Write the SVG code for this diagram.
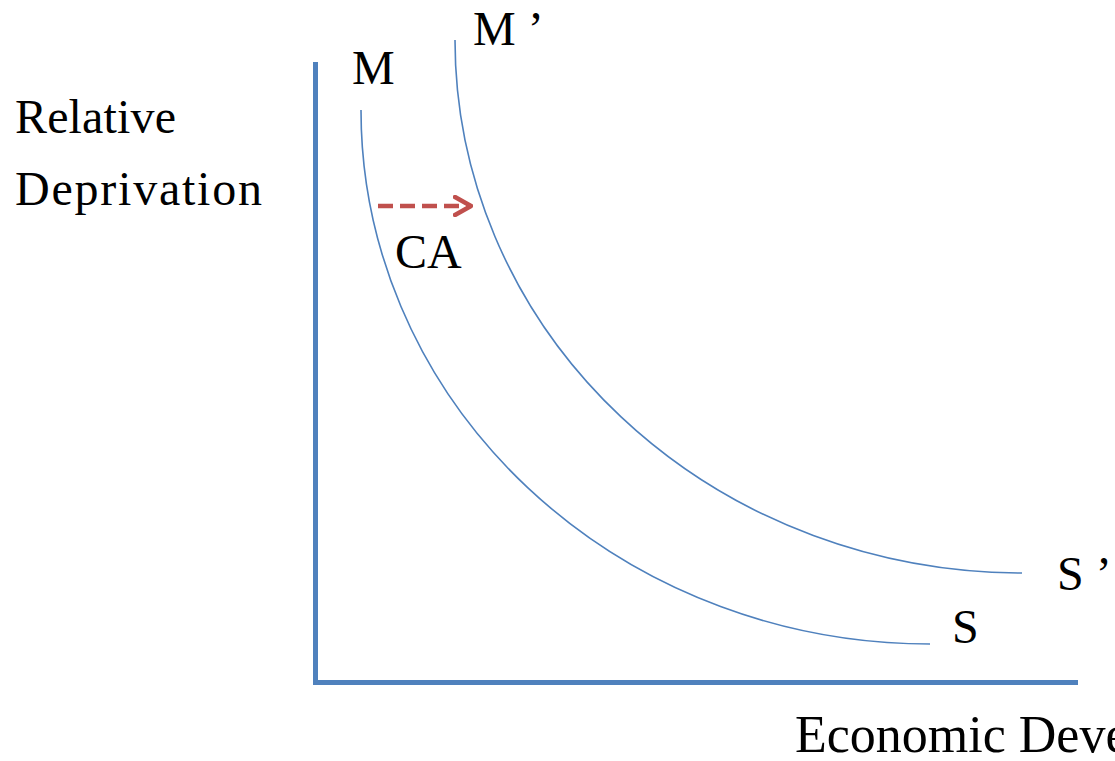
<svg xmlns="http://www.w3.org/2000/svg" width="1115" height="761" viewBox="0 0 1115 761">
<style>
text{font-family:"Liberation Serif","Times New Roman",serif;fill:#000;font-size:48px}
.axis{stroke:#4F81BD;stroke-width:5;fill:none}
.curve{stroke:#4F81BD;stroke-width:1.6;fill:none}
.shift{stroke:#C0504D;stroke-width:4.5;fill:none;stroke-dasharray:15 7}
</style>
<defs>
<marker id="chev" viewBox="0 0 20 22" refX="18" refY="11" markerWidth="20" markerHeight="22" markerUnits="userSpaceOnUse" orient="auto">
<path d="M2,2 L18,11 L2,20" fill="none" stroke="#C0504D" stroke-width="4.5" stroke-linecap="round" stroke-linejoin="round"/>
</marker>
</defs>
<g id="axes">
<path class="axis" d="M315.5,62 L315.5,682.5 L1078,682.5"/>
</g>
<g id="curve-MS">
<path class="curve" d="M361,110 A569,534 0 0 0 930,644"/>
</g>
<g id="curve-MS-prime">
<path class="curve" d="M455,40 A567,533 0 0 0 1022,573"/>
</g>
<g id="connectors">
<path class="shift" d="M378,206 L471,206" marker-end="url(#chev)"/>
</g>
<g id="labels">
<text x="15" y="133" textLength="161">Relative</text>
<text x="15" y="205" textLength="247">Deprivation</text>
<text x="352" y="84">M</text>
<text x="473" y="45">M ’</text>
<text x="395" y="268">CA</text>
<text x="1057" y="590">S ’</text>
<text x="952" y="643">S</text>
<text x="795" y="752" style="font-size:52px">Economic Development</text>
</g>
</svg>
